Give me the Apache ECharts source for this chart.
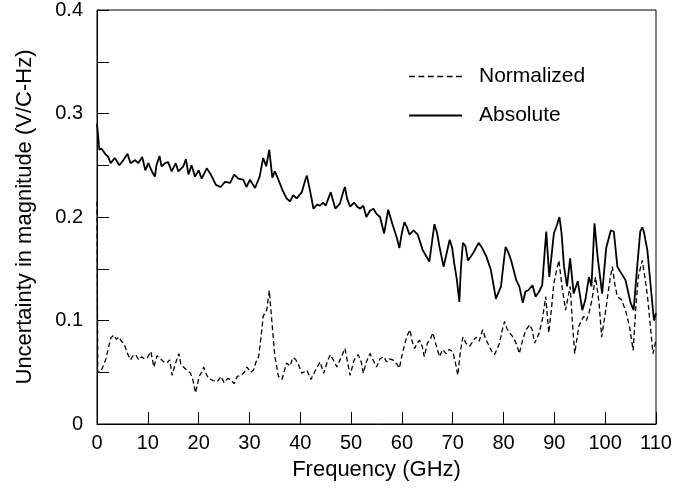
<!DOCTYPE html>
<html>
<head>
<meta charset="utf-8">
<script src="https://cdn.jsdelivr.net/npm/echarts@6/dist/echarts.min.js"></script>
<style>
html,body{margin:0;padding:0;background:#fff;}
#chart{width:697px;height:497px;}
</style>
</head>
<body>
<div id="chart"></div>
<script>
const absFreq = [0,0.1,0.46,0.9,1.6,2.2,2.7,3.5,4.4,5.2,6.0,6.6,7.5,8.1,8.9,9.5,10.1,10.8,11.4,11.7,12.3,12.7,13.4,14.0,14.7,15.5,16.0,17.0,17.5,18.0,18.6,19.3,20.0,20.6,21.6,22.4,23.4,24.3,25.2,26.2,27.0,27.8,28.8,29.4,30.1,31.1,32.0,32.7,33.3,33.9,34.5,35.0,35.7,36.5,37.3,38.0,38.6,39.3,40.3,41.0,41.3,41.9,42.6,43.3,43.9,44.5,45.0,46.0,46.9,47.8,48.5,48.8,49.2,49.8,50.6,51.2,51.8,52.4,53.0,53.7,54.4,55.0,55.7,56.5,57.3,58.2,59.0,59.5,60.0,60.5,61.0,61.5,62.3,63.1,64.1,64.8,65.4,65.9,66.4,66.9,67.4,68.2,68.8,69.4,69.9,70.3,70.8,71.3,71.6,72.0,72.5,73.0,74.0,75.1,75.8,76.6,77.5,78.0,78.5,79.5,80.0,80.4,81.0,81.5,82.5,83.1,83.8,84.3,84.8,85.7,86.3,87.0,87.6,88.0,88.4,89.0,89.9,90.5,91.0,91.4,91.9,92.5,93.1,93.8,94.6,95.5,96.1,96.8,97.3,97.9,98.5,99.4,100.2,101.1,101.7,102.4,103.0,104.0,105.0,105.6,106.3,106.9,107.3,107.6,108.3,108.9,109.6,110.0];
const absVal = [0.290,0.285,0.265,0.266,0.261,0.258,0.252,0.257,0.250,0.255,0.261,0.252,0.255,0.252,0.258,0.245,0.252,0.244,0.239,0.250,0.259,0.249,0.252,0.253,0.244,0.252,0.244,0.249,0.256,0.241,0.250,0.239,0.245,0.237,0.247,0.241,0.231,0.229,0.234,0.233,0.241,0.237,0.236,0.229,0.236,0.228,0.239,0.257,0.249,0.265,0.238,0.244,0.236,0.226,0.218,0.215,0.221,0.218,0.224,0.236,0.240,0.226,0.208,0.212,0.211,0.214,0.211,0.224,0.208,0.213,0.225,0.229,0.218,0.210,0.214,0.210,0.208,0.211,0.200,0.206,0.208,0.203,0.200,0.184,0.207,0.192,0.180,0.170,0.185,0.195,0.190,0.183,0.187,0.183,0.168,0.162,0.157,0.175,0.193,0.185,0.171,0.152,0.165,0.178,0.170,0.155,0.140,0.118,0.150,0.175,0.172,0.158,0.165,0.175,0.170,0.162,0.149,0.135,0.121,0.133,0.155,0.171,0.165,0.158,0.139,0.133,0.117,0.128,0.129,0.134,0.123,0.128,0.134,0.160,0.186,0.142,0.184,0.192,0.200,0.185,0.152,0.133,0.160,0.126,0.138,0.110,0.120,0.142,0.133,0.194,0.162,0.126,0.170,0.187,0.186,0.152,0.147,0.139,0.117,0.110,0.152,0.186,0.190,0.186,0.168,0.136,0.100,0.107];

const normFreq = [0,0.15,0.7,1.7,2.7,3.3,3.8,4.3,4.8,5.3,6.0,6.6,7.1,7.6,8.2,8.8,9.3,9.9,10.6,11.2,11.8,12.5,13.1,13.8,14.3,14.8,15.4,16.1,16.5,17.0,17.7,18.4,18.9,19.4,20.1,20.6,21.0,21.5,22.0,22.8,23.7,24.4,25.0,25.7,26.3,27.0,27.6,28.3,29.0,29.5,30.2,30.8,31.3,31.8,32.3,32.7,33.4,33.9,34.4,35.0,35.7,36.4,37.3,38.0,38.5,39.0,39.6,40.3,41.3,42.1,43.0,43.9,44.6,45.3,45.9,46.5,47.2,48.0,48.8,49.3,49.8,50.6,51.4,52.0,52.4,53.0,53.7,54.3,55.0,55.7,56.4,57.0,57.5,58.2,59.0,59.5,60.0,60.5,61.0,61.6,62.0,62.5,63.0,63.5,64.0,64.4,65.0,65.6,66.1,66.8,67.4,68.0,68.7,69.3,70.0,70.5,71.0,71.5,72.0,72.6,73.3,74.0,74.6,75.2,75.9,76.5,77.2,77.7,78.2,78.7,79.2,79.7,80.2,80.7,81.2,81.7,82.2,82.7,83.1,83.8,84.4,85.2,85.7,86.1,86.6,87.0,87.6,88.3,88.9,89.4,89.9,90.4,90.9,91.5,92.2,92.6,93.1,93.6,94.0,94.8,95.3,95.8,96.3,96.8,97.4,98.1,98.8,99.3,99.8,100.2,100.8,101.4,101.9,102.4,103.2,104.0,104.5,104.9,105.5,106.0,106.5,107.3,107.9,108.4,108.9,109.4,110.0];
const normVal = [0.215,0.050,0.050,0.062,0.083,0.086,0.082,0.084,0.080,0.078,0.068,0.062,0.066,0.067,0.062,0.065,0.063,0.064,0.070,0.055,0.066,0.063,0.060,0.059,0.062,0.047,0.058,0.068,0.058,0.055,0.052,0.049,0.042,0.030,0.046,0.050,0.055,0.048,0.044,0.042,0.041,0.046,0.040,0.044,0.043,0.039,0.046,0.047,0.050,0.055,0.050,0.052,0.060,0.065,0.085,0.104,0.110,0.129,0.100,0.065,0.046,0.043,0.059,0.056,0.064,0.063,0.058,0.049,0.052,0.043,0.052,0.060,0.049,0.060,0.067,0.062,0.055,0.064,0.073,0.060,0.047,0.062,0.067,0.060,0.049,0.060,0.068,0.062,0.055,0.063,0.065,0.060,0.063,0.062,0.058,0.054,0.066,0.076,0.085,0.091,0.080,0.073,0.078,0.081,0.075,0.065,0.078,0.082,0.088,0.075,0.065,0.072,0.068,0.072,0.070,0.060,0.047,0.070,0.084,0.078,0.075,0.080,0.084,0.080,0.091,0.082,0.075,0.070,0.067,0.072,0.078,0.090,0.099,0.092,0.088,0.085,0.081,0.075,0.068,0.082,0.091,0.096,0.090,0.078,0.083,0.088,0.100,0.123,0.088,0.110,0.136,0.148,0.158,0.133,0.110,0.120,0.133,0.095,0.068,0.094,0.100,0.104,0.100,0.107,0.120,0.142,0.117,0.084,0.100,0.113,0.135,0.152,0.135,0.123,0.120,0.110,0.100,0.091,0.071,0.110,0.142,0.158,0.139,0.120,0.094,0.068,0.081];

const xTicks = [0,10,20,30,40,50,60,70,80,90,100,110];
const yLabels = ['0','0.1','0.2','0.3','0.4'];
const seriesNames = ['Normalized','Absolute'];

const zip = (a,b) => a.map((v,i)=>[v,b[i]]);
const FONT = 'Liberation Sans, Arial, sans-serif';

// legend icons: plain line segments (dashed / solid)
let dashPath = 'path://';
for (let i = 0; i < 6; i++) { const x0 = i * 9.6; dashPath += 'M' + x0 + ',0h6v1.4h-6z'; }
const solidPath = 'path://M0,0h54v1.8h-54z';

const chart = echarts.init(document.getElementById('chart'), null, {renderer:'canvas'});
chart.setOption({
  animation:false,
  backgroundColor:'#fff',
  grid:{left:97,right:41,top:10,bottom:73,show:true,borderColor:'#000',borderWidth:1,backgroundColor:'transparent'},
  legend:{
    orient:'vertical', left:404, top:61, itemWidth:53, itemHeight:14, itemGap:18,
    symbolKeepAspect:true,
    data:[{name:seriesNames[0],icon:dashPath},{name:seriesNames[1],icon:solidPath}],
    itemStyle:{color:'#000',borderWidth:0},
    textStyle:{fontFamily:FONT,fontSize:21,color:'#000',padding:[0,0,0,12]}
  },
  xAxis:{
    type:'value', min:0, max:110, interval:10,
    name:'Frequency (GHz)', nameLocation:'middle', nameGap:35,
    nameTextStyle:{fontFamily:FONT,fontSize:22,color:'#000'},
    axisLine:{show:true,lineStyle:{color:'#000',width:1}},
    axisTick:{show:true,inside:true,length:12,lineStyle:{color:'#000'}},
    axisLabel:{fontFamily:FONT,fontSize:20,color:'#000',margin:9,formatter:v=>xTicks.includes(v)?String(v):''},
    splitLine:{show:false}
  },
  yAxis:{
    type:'value', min:0, max:0.4, interval:0.05,
    name:'Uncertainty in magnitude (V/C-Hz)', nameLocation:'middle', nameGap:61,
    nameTextStyle:{fontFamily:FONT,fontSize:22,color:'#000'},
    axisLine:{show:true,lineStyle:{color:'#000',width:1}},
    axisTick:{show:true,inside:true,length:12,lineStyle:{color:'#000'}},
    axisLabel:{fontFamily:FONT,fontSize:20,color:'#000',margin:14,
      formatter:v=>{const k=Math.round(v*100); return k%10===0 ? yLabels[k/10] : '';}},
    splitLine:{show:false}
  },
  series:[
    {name:seriesNames[0],type:'line',symbol:'none',data:zip(normFreq,normVal),
     lineStyle:{color:'#000',width:1.3,type:[5,3]},itemStyle:{color:'#000'}},
    {name:seriesNames[1],type:'line',symbol:'none',data:zip(absFreq,absVal),
     lineStyle:{color:'#000',width:1.8},itemStyle:{color:'#000'}}
  ]
});
</script>
</body>
</html>
